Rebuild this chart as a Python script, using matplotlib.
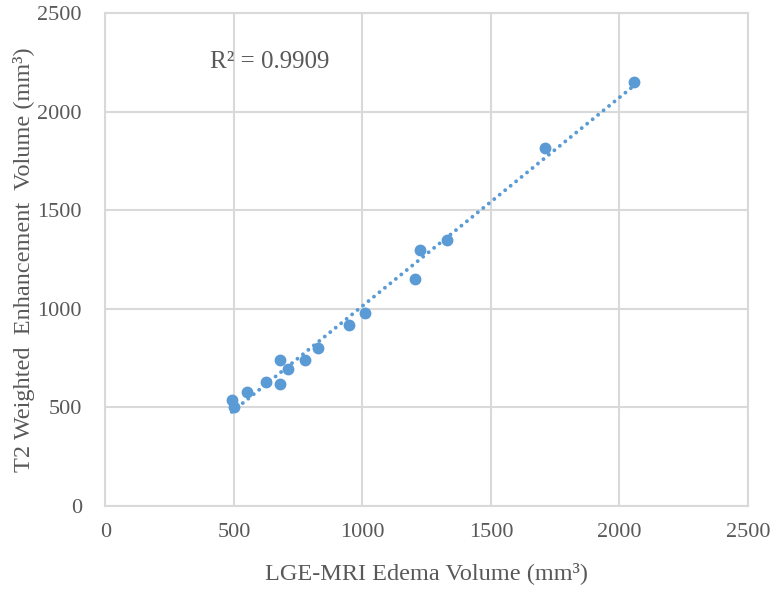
import numpy as np
import matplotlib.pyplot as plt

# LGE-MRI edema volume vs T2 weighted enhancement volume (mm^3)
lge_volume = [500, 492, 551, 624, 679, 679, 710, 776, 827, 947, 1012,
              1204, 1224, 1329, 1710, 2058]
t2_volume = [502, 538, 578, 629, 619, 740, 695, 740, 800, 919, 980,
             1151, 1298, 1349, 1814, 2152]
r2_label = "R\u00b2 = 0.9909"

grey_text = "#595959"
blue = "#5b9bd5"
grid_col = "#d9d9d9"

plt.rcParams['font.family'] = ['Liberation Serif', 'DejaVu Serif']

fig = plt.figure(figsize=(7.75, 5.89), dpi=100)
ax = fig.add_axes([0.136, 0.141, 0.829, 0.837])

x = np.array(lge_volume)
y = np.array(t2_volume)

# linear trendline
k, b = np.polyfit(x, y, 1)
xs = np.array([x.min(), x.max()])
ax.plot(xs, k * xs + b, color=blue, lw=2.8, linestyle=(0, (0.01, 1.8)),
        dash_capstyle='round', zorder=2)

ax.plot(x, y, 'o', color=blue, markersize=7.5, zorder=3)

ax.text(407, 2251, r2_label, fontsize=18, color=grey_text, ha='left', va='center')

ax.set_xlim(0, 2500)
ax.set_ylim(0, 2500)
ax.set_xticks(np.arange(0, 2501, 500))
ax.set_yticks(np.arange(0, 2501, 500))
ax.grid(True, color=grid_col, lw=1.5)
ax.set_axisbelow(True)
for s in ax.spines.values():
    s.set_color(grid_col)
    s.set_linewidth(1.5)
ax.tick_params(length=0, labelsize=16, colors=grey_text)
ax.tick_params(axis='y', pad=17)
ax.tick_params(axis='x', pad=12)

ax.set_xlabel("LGE-MRI Edema Volume (mm\u00b3)", fontsize=17.5, color=grey_text, labelpad=15)
ax.set_ylabel("T2 Weighted  Enhancement  Volume (mm\u00b3)", fontsize=17.5, color=grey_text, labelpad=2)

fig.savefig("out.png", dpi=100)
